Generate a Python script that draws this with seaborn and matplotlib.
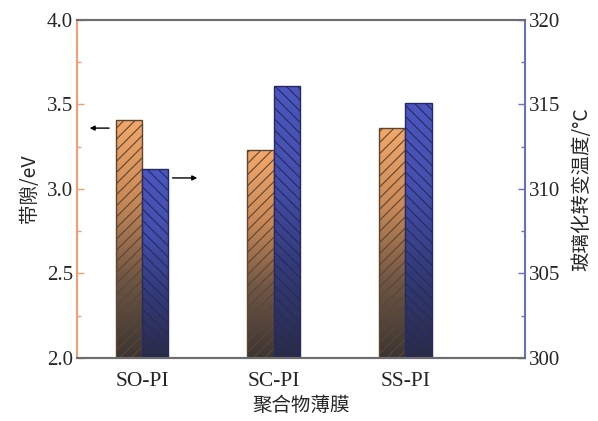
import numpy as np
import pandas as pd
import seaborn as sns
import matplotlib.pyplot as plt
from matplotlib.colors import LinearSegmentedColormap
from matplotlib.ticker import MultipleLocator

films = ["SO-PI", "SC-PI", "SS-PI"]
band_gap = [3.41, 3.23, 3.36]
tg = [311.2, 316.1, 315.1]

sns.set_style("white")
plt.rcParams["font.family"] = ["Liberation Serif", "Noto Sans CJK SC"]
plt.rcParams["hatch.linewidth"] = 0.8

df = pd.DataFrame({"film": films, "gap": band_gap, "tg": tg})

fig = plt.figure(figsize=(5.98, 4.21), dpi=100)
ax1 = fig.add_axes([0.129, 0.15, 0.749, 0.8025])
ax2 = ax1.twinx()

sns.barplot(data=df, x="film", y="gap", ax=ax1, width=0.2, color="#f2a86b")
sns.barplot(data=df, x="film", y="tg", ax=ax2, width=0.2, color="#4a55bd")

for ax, shift in ((ax1, -0.1), (ax2, 0.1)):
    for p in ax.patches:
        p.set_x(p.get_x() + shift)
    ax.set_xlim(-0.494, 2.91)

ax1.set_ylim(2.0, 4.0)
ax2.set_ylim(300, 320)


def shade(ax, hatch, colors, edge):
    # vertical gradient clipped to each bar, hatch drawn on top
    cmap = LinearSegmentedColormap.from_list("g", colors)
    lo = ax.get_ylim()[0]
    grad = np.linspace(0, 1, 256).reshape(-1, 1)
    for p in list(ax.patches):
        x0, w, h = p.get_x(), p.get_width(), p.get_height()
        im = ax.imshow(grad, cmap=cmap, origin="lower", aspect="auto",
                       extent=(x0, x0 + w, lo, h), zorder=1)
        im.set_clip_path(p)
        p.set_facecolor("none")
        p.set_hatch(hatch)
        p.set_edgecolor(edge)
        p.set_linewidth(1.0)
        p.set_zorder(2)


shade(ax1, "///", ["#3a3532", "#6e5646", "#c98a58", "#f2a86b"], "#5e452f")
shade(ax2, "\\\\\\", ["#2a2c45", "#333a78", "#4550ad", "#4b56c0"], "#262a60")

ax1.set_xlim(-0.494, 2.91)
ax1.set_ylim(2.0, 4.0)
ax2.set_ylim(300, 320)

orange = "#f0a070"
blue = "#6a70bb"
gray = "#6e6e6e"

for ax in (ax1, ax2):
    for s in ("top", "bottom"):
        ax.spines[s].set_color(gray)
        ax.spines[s].set_linewidth(1.5)
ax1.spines["left"].set_color(orange)
ax1.spines["left"].set_linewidth(1.5)
ax1.spines["right"].set_visible(False)
ax2.spines["right"].set_color(blue)
ax2.spines["right"].set_linewidth(1.5)
ax2.spines["left"].set_visible(False)

ax1.yaxis.set_major_locator(MultipleLocator(0.5))
ax1.yaxis.set_minor_locator(MultipleLocator(0.25))
ax2.yaxis.set_major_locator(MultipleLocator(5))
ax2.yaxis.set_minor_locator(MultipleLocator(2.5))
ax1.yaxis.set_major_formatter(plt.FormatStrFormatter("%.1f"))

ax1.tick_params(axis="y", which="both", direction="in", color=orange,
                labelsize=15, left=True, pad=3)
ax1.tick_params(axis="y", which="major", length=5, width=1)
ax1.tick_params(axis="y", which="minor", length=3, width=1)
ax2.tick_params(axis="y", which="both", direction="in", color=blue,
                labelsize=15, right=True, pad=3)
ax2.tick_params(axis="y", which="major", length=5, width=1)
ax2.tick_params(axis="y", which="minor", length=3, width=1)
ax1.tick_params(axis="x", length=0, labelsize=15.5, pad=10)
ax2.tick_params(axis="x", length=0)

cjk = ["Noto Sans CJK SC", "DejaVu Sans"]
ax1.set_xlabel("聚合物薄膜", family=cjk, fontsize=14, labelpad=3)
ax1.set_ylabel("带隙/eV", family=cjk, fontsize=14, labelpad=5)
ax2.set_ylabel("玻璃化转变温度/°C", family=cjk, fontsize=14, labelpad=8)

arrow = dict(arrowstyle="-|>", color="black", lw=1, mutation_scale=7)
ax1.annotate("", xy=(-0.42, 3.36), xytext=(-0.23, 3.36), arrowprops=arrow)
ax1.annotate("", xy=(0.44, 3.065), xytext=(0.21, 3.065), arrowprops=arrow)

fig.savefig("out.png", dpi=100)
